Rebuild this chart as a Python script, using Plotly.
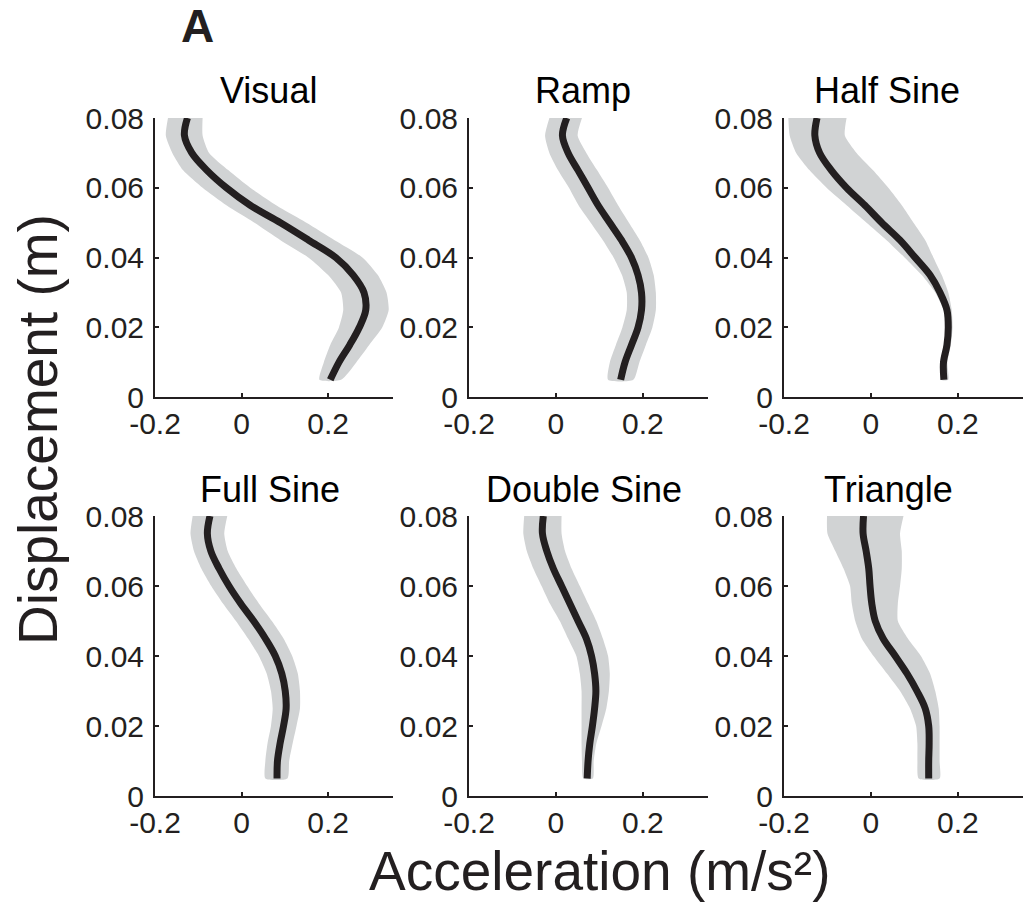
import plotly.graph_objects as go

# ---------------- data ----------------
displacement = [0.080, 0.075, 0.070, 0.065, 0.060, 0.055, 0.050, 0.045,
                0.040, 0.035, 0.030, 0.025, 0.020, 0.015, 0.010, 0.005]

titles = ["Visual", "Ramp", "Half Sine", "Full Sine", "Double Sine", "Triangle"]

visual_mean = [-0.125, -0.132, -0.115, -0.080, -0.035, 0.020, 0.090, 0.155,
               0.218, 0.258, 0.283, 0.287, 0.272, 0.250, 0.225, 0.205]
visual_lo = [-0.170, -0.175, -0.160, -0.135, -0.090, -0.035, 0.030, 0.090,
             0.155, 0.200, 0.230, 0.235, 0.225, 0.205, 0.190, 0.180]
visual_hi = [-0.090, -0.090, -0.075, -0.030, 0.020, 0.080, 0.150, 0.215,
             0.280, 0.315, 0.335, 0.340, 0.325, 0.295, 0.265, 0.230]

ramp_mean = [0.025, 0.015, 0.028, 0.051, 0.074, 0.097, 0.124, 0.151,
             0.174, 0.189, 0.197, 0.197, 0.189, 0.174, 0.159, 0.149]
ramp_lo = [-0.015, -0.025, -0.015, 0.005, 0.030, 0.052, 0.080, 0.108,
           0.133, 0.152, 0.163, 0.163, 0.153, 0.138, 0.124, 0.120]
ramp_hi = [0.060, 0.050, 0.070, 0.095, 0.120, 0.143, 0.168, 0.193,
           0.213, 0.225, 0.230, 0.230, 0.222, 0.207, 0.192, 0.178]

halfsine_mean = [-0.124, -0.129, -0.118, -0.091, -0.056, -0.014, 0.025, 0.067,
                 0.102, 0.136, 0.159, 0.175, 0.178, 0.175, 0.167, 0.168]
halfsine_lo = [-0.190, -0.187, -0.172, -0.141, -0.102, -0.056, -0.010, 0.036,
               0.078, 0.117, 0.148, 0.167, 0.173, 0.169, 0.161, 0.161]
halfsine_hi = [-0.056, -0.060, -0.033, 0.005, 0.040, 0.071, 0.098, 0.125,
               0.144, 0.163, 0.178, 0.186, 0.188, 0.184, 0.176, 0.178]

fullsine_mean = [-0.073, -0.079, -0.071, -0.052, -0.029, -0.002, 0.028, 0.055,
                 0.078, 0.093, 0.101, 0.103, 0.097, 0.089, 0.083, 0.082]
fullsine_lo = [-0.113, -0.118, -0.110, -0.093, -0.070, -0.043, -0.013, 0.015,
               0.040, 0.058, 0.068, 0.072, 0.068, 0.060, 0.055, 0.055]
fullsine_hi = [-0.033, -0.040, -0.032, -0.012, 0.013, 0.040, 0.070, 0.097,
               0.117, 0.130, 0.135, 0.135, 0.127, 0.118, 0.110, 0.106]

doublesine_mean = [-0.029, -0.031, -0.021, -0.006, 0.013, 0.032, 0.051, 0.070,
                   0.082, 0.089, 0.092, 0.089, 0.084, 0.078, 0.074, 0.072]
doublesine_lo = [-0.073, -0.075, -0.067, -0.052, -0.033, -0.014, 0.009, 0.028,
                 0.047, 0.055, 0.059, 0.059, 0.059, 0.059, 0.060, 0.063]
doublesine_hi = [0.013, 0.013, 0.021, 0.036, 0.055, 0.074, 0.093, 0.108,
                 0.120, 0.124, 0.122, 0.116, 0.105, 0.093, 0.087, 0.085]

triangle_mean = [-0.017, -0.018, -0.011, -0.005, -0.002, 0.002, 0.010, 0.028,
                 0.056, 0.083, 0.106, 0.125, 0.133, 0.134, 0.133, 0.133]
triangle_lo = [-0.101, -0.100, -0.082, -0.063, -0.048, -0.044, -0.036, -0.021,
               0.006, 0.037, 0.067, 0.090, 0.104, 0.107, 0.107, 0.110]
triangle_hi = [0.075, 0.067, 0.071, 0.071, 0.067, 0.062, 0.062, 0.085,
               0.115, 0.136, 0.148, 0.156, 0.158, 0.158, 0.158, 0.158]

means = [visual_mean, ramp_mean, halfsine_mean, fullsine_mean, doublesine_mean, triangle_mean]
lows = [visual_lo, ramp_lo, halfsine_lo, fullsine_lo, doublesine_lo, triangle_lo]
highs = [visual_hi, ramp_hi, halfsine_hi, fullsine_hi, doublesine_hi, triangle_hi]

x_tickvals = [-0.2, 0, 0.2]
x_ticktext = ["-0.2", "0", "0.2"]
y_tickvals = [0, 0.02, 0.04, 0.06, 0.08]
y_ticktext = ["0", "0.02", "0.04", "0.06", "0.08"]

panel_label = "A"
y_title = "Displacement (m)"
x_title = "Acceleration (m/s\u00b2)"

# ---------------- layout geometry ----------------
W, H = 1023, 905
FONT = "Arial, 'Liberation Sans', Helvetica, sans-serif"
INK = "#231f20"
BAND = "#d1d3d4"

col_px = [(155, 393), (469, 708), (784, 1023)]
row_px = [(118, 397.3), (516, 796)]

fig = go.Figure()
layout_axes = {}
for i in range(6):
    r, c = divmod(i, 3)
    idx = "" if i == 0 else str(i + 1)
    xref, yref = "x" + idx, "y" + idx
    band_x = lows[i] + highs[i][::-1]
    band_y = displacement + displacement[::-1]
    fig.add_trace(go.Scatter(x=band_x, y=band_y, fill="toself", fillcolor=BAND,
                             line=dict(width=0, color=BAND, shape="spline", smoothing=0.6),
                             mode="lines", xaxis=xref, yaxis=yref, hoverinfo="skip",
                             showlegend=False))
    fig.add_trace(go.Scatter(x=means[i], y=displacement, mode="lines",
                             line=dict(color=INK, width=7, shape="spline", smoothing=1.0),
                             xaxis=xref, yaxis=yref, showlegend=False))
    x0, x1 = col_px[c]
    y0, y1 = row_px[r]
    common = dict(showline=True, linecolor=INK, linewidth=2, showgrid=False,
                  zeroline=False, ticks="inside", ticklen=4, tickwidth=1.5,
                  tickcolor=INK, tickfont=dict(family=FONT, size=30, color=INK),
                  automargin=False)
    layout_axes["xaxis" + idx] = dict(common, domain=[x0 / W, x1 / W], range=[-0.2, 0.35],
                                      tickmode="array", tickvals=x_tickvals,
                                      ticktext=x_ticktext, anchor=yref,
                                      ticklabelstandoff=-1)
    layout_axes["yaxis" + idx] = dict(common, domain=[1 - y1 / H, 1 - y0 / H], range=[0, 0.08],
                                      tickmode="array", tickvals=y_tickvals,
                                      ticktext=y_ticktext, anchor=xref,
                                      ticklabelstandoff=3)

title_px = [(268, 91), (583, 91), (887, 91), (270, 490), (584, 490), (888, 490)]
annotations = []
for t, (px, py) in zip(titles, title_px):
    annotations.append(dict(text=t, x=px / W, y=1 - py / H, xref="paper", yref="paper",
                            xanchor="center", yanchor="middle", showarrow=False,
                            font=dict(family=FONT, size=36, color="black")))
annotations.append(dict(text="<b>" + panel_label + "</b>", x=197 / W, y=1 - 26 / H,
                        xref="paper", yref="paper", xanchor="center", yanchor="middle",
                        showarrow=False, font=dict(family=FONT, size=46, color=INK)))
annotations.append(dict(text=y_title, x=38 / W, y=1 - 430 / H, xref="paper", yref="paper",
                        xanchor="center", yanchor="middle", textangle=-90, showarrow=False,
                        font=dict(family=FONT, size=55, color=INK)))
annotations.append(dict(text=x_title, x=599 / W, y=1 - 871 / H, xref="paper", yref="paper",
                        xanchor="center", yanchor="middle", showarrow=False,
                        font=dict(family=FONT, size=55, color=INK)))

fig.update_layout(width=W, height=H, margin=dict(l=0, r=0, t=0, b=0),
                  paper_bgcolor="white", plot_bgcolor="white",
                  annotations=annotations, showlegend=False, **layout_axes)

fig.write_html("out.html")
